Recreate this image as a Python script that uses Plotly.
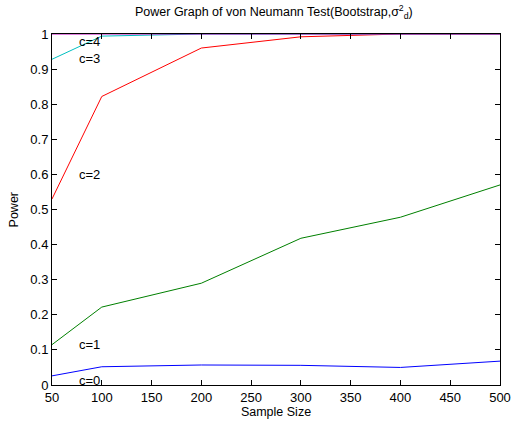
import plotly.graph_objects as go

sample_sizes = [50, 100, 200, 300, 400, 500]
power_c0 = [0.026, 0.052, 0.057, 0.056, 0.050, 0.068]
power_c1 = [0.115, 0.222, 0.290, 0.418, 0.478, 0.570]
power_c2 = [0.530, 0.822, 0.960, 0.992, 1.0, 1.0]
power_c3 = [0.928, 0.994, 1.0, 1.0, 1.0, 1.0]
power_c4 = [1.0, 1.0, 1.0, 1.0, 1.0, 1.0]

series = [
    ("c=0", power_c0, "rgb(0,0,255)", 0.012),
    ("c=1", power_c1, "rgb(0,128,0)", 0.115),
    ("c=2", power_c2, "rgb(255,0,0)", 0.60),
    ("c=3", power_c3, "rgb(0,191,191)", 0.93),
    ("c=4", power_c4, "rgb(191,0,191)", 0.98),
]

fig = go.Figure()
for name, vals, color, ly in series:
    fig.add_trace(go.Scatter(x=sample_sizes, y=vals, mode="lines", name=name,
                             line=dict(color=color, width=1), showlegend=False))

annotations = []
for name, vals, color, ly in series:
    annotations.append(dict(x=75, y=ly, xref="x", yref="y", text=name, showarrow=False,
                            xanchor="left", yanchor="middle",
                            font=dict(size=13, color="black")))
annotations.append(dict(x=-0.085, y=0.5, xref="paper", yref="paper", text="Power",
                        showarrow=False, textangle=-90, xanchor="center", yanchor="middle",
                        font=dict(size=12.5, color="black")))

axis_common = dict(showgrid=False, zeroline=False, showline=True, linecolor="black",
                   linewidth=1, mirror="ticks", ticks="inside", ticklen=5,
                   tickcolor="black", tickfont=dict(size=13, color="black"),
                   automargin=False)

fig.update_layout(
    width=511, height=429,
    margin=dict(l=52, r=11, t=34, b=44),
    paper_bgcolor="white", plot_bgcolor="white",
    font=dict(family="Liberation Sans, Arial, sans-serif", size=12, color="black"),
    title=dict(text="Power Graph of von Neumann Test(Bootstrap,σ<sup>2</sup><sub>d</sub>)",
               x=0.536, xanchor="center", y=0.973, yanchor="middle",
               font=dict(size=12.5, color="black"), automargin=False),
    xaxis=dict(range=[50, 500], tickvals=[50, 100, 150, 200, 250, 300, 350, 400, 450, 500],
               title=dict(text="Sample Size", standoff=2, font=dict(size=12.5)), **axis_common),
    yaxis=dict(range=[0, 1], tickvals=[0, 0.1, 0.2, 0.3, 0.4, 0.5, 0.6, 0.7, 0.8, 0.9, 1],
               ticktext=["0", "0.1", "0.2", "0.3", "0.4", "0.5", "0.6", "0.7", "0.8", "0.9", "1"],
               **axis_common),
    annotations=annotations,
)

fig.write_html("out.html", config={"displayModeBar": False},
               post_script="document.body.style.margin='0';document.body.style.overflow='hidden';")
